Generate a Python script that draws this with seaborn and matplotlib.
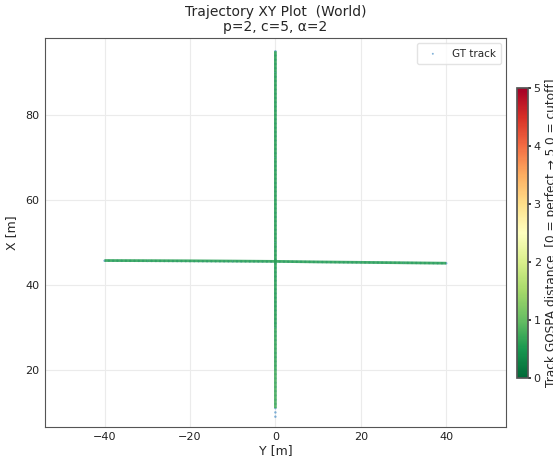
import numpy as np
import matplotlib
matplotlib.use("Agg")
import matplotlib.pyplot as plt
import seaborn as sns
from matplotlib.collections import LineCollection
from matplotlib.colors import Normalize

# Ground-truth positions (metres), object 1 drives along X, object 2 along Y
gt1_x = [9, 10, 11, 12, 13, 14, 15, 16, 17, 18, 19, 20, 21, 22, 23, 24, 25, 26,
         27, 28, 29, 30, 31, 32, 33, 34, 35, 36, 37, 38, 39, 40, 41, 42, 43, 44,
         45, 46, 47, 48, 49, 50, 51, 52, 53, 54, 55, 56, 57, 58, 59, 60, 61, 62,
         63, 64, 65, 66, 67, 68, 69, 70, 71, 72, 73, 74, 75, 76, 77, 78, 79, 80,
         81, 82, 83, 84, 85, 86, 87, 88, 89, 90, 91, 92, 93, 94, 95]
gt1_y = [0.0] * len(gt1_x)
gt2_y = [-40, -39, -38, -37, -36, -35, -34, -33, -32, -31, -30, -29, -28, -27,
         -26, -25, -24, -23, -22, -21, -20, -19, -18, -17, -16, -15, -14, -13,
         -12, -11, -10, -9, -8, -7, -6, -5, -4, -3, -2, -1, 0, 1, 2, 3, 4, 5, 6,
         7, 8, 9, 10, 11, 12, 13, 14, 15, 16, 17, 18, 19, 20, 21, 22, 23, 24, 25,
         26, 27, 28, 29, 30, 31, 32, 33, 34, 35, 36, 37, 38, 39, 40]
gt2_x = [45.70, 45.70, 45.69, 45.69, 45.68, 45.68, 45.67, 45.67, 45.66, 45.66,
         45.65, 45.65, 45.64, 45.64, 45.63, 45.63, 45.62, 45.62, 45.61, 45.61,
         45.60, 45.60, 45.59, 45.59, 45.58, 45.58, 45.57, 45.57, 45.56, 45.56,
         45.55, 45.55, 45.54, 45.54, 45.53, 45.53, 45.52, 45.52, 45.51, 45.51,
         45.50, 45.49, 45.48, 45.47, 45.46, 45.45, 45.44, 45.43, 45.42, 45.41,
         45.40, 45.39, 45.38, 45.37, 45.36, 45.35, 45.34, 45.33, 45.32, 45.31,
         45.30, 45.29, 45.28, 45.27, 45.26, 45.25, 45.24, 45.23, 45.22, 45.21,
         45.20, 45.19, 45.18, 45.17, 45.16, 45.15, 45.14, 45.13, 45.12, 45.11,
         45.10]

# Estimated tracks with per-point GOSPA distance
est1_y = [0.0, 0.0, 0.0, 0.0, 0.0, 0.0, 0.0, 0.0, 0.0, 0.0]
est1_x = [11.0, 20.0, 30.0, 40.0, 50.0, 60.0, 70.0, 80.0, 90.0, 95.0]
est1_gospa = [0.8, 0.7, 0.6, 0.6, 0.6, 0.6, 0.6, 0.6, 0.6, 0.6]
est2_y = [-40.0, -30.0, -20.0, -10.0, 0.0, 10.0, 20.0, 30.0, 40.0]
est2_x = [45.75, 45.72, 45.68, 45.62, 45.55, 45.42, 45.32, 45.22, 45.12]
est2_gospa = [0.6, 0.6, 0.6, 0.6, 0.6, 0.6, 0.6, 0.6, 0.6]

cutoff = 5.0
sns.set_theme(style="whitegrid")
plt.rcParams["font.family"] = ["DejaVu Sans"]

fig = plt.figure(figsize=(5.53, 4.59), dpi=100)
ax = fig.add_axes([0.081, 0.070, 0.834, 0.847])
cax = fig.add_axes([0.935, 0.176, 0.020, 0.632])

cmap = plt.get_cmap("RdYlGn_r")
norm = Normalize(0, cutoff)

sns.scatterplot(x=gt1_y + gt2_y, y=gt1_x + gt2_x, ax=ax, s=3, color="#4a90c8",
                edgecolor="none", alpha=0.7, label="GT track", zorder=2)

for ys, xs, g in [(est1_y, est1_x, est1_gospa), (est2_y, est2_x, est2_gospa)]:
    pts = np.column_stack([ys, xs]).reshape(-1, 1, 2)
    segs = np.concatenate([pts[:-1], pts[1:]], axis=1)
    lc = LineCollection(segs, cmap=cmap, norm=norm, linewidth=2.0, alpha=0.85,
                        zorder=3, snap=False)
    lc.set_array(np.array(g[:-1]))
    ax.add_collection(lc)

ax.set_xlim(-54, 54)
ax.set_ylim(6.6, 98.1)
ax.set_xticks([-40, -20, 0, 20, 40])
ax.set_yticks([20, 40, 60, 80])
ax.grid(True, color="#ebebeb", linewidth=0.8)
for s in ax.spines.values():
    s.set_color("#555555")
    s.set_linewidth(0.8)
ax.tick_params(labelsize=8, colors="#222222", length=0, pad=4)
ax.set_xlabel("Y [m]", fontsize=9, labelpad=1)
ax.set_ylabel("X [m]", fontsize=9, labelpad=5)
ax.set_title("Trajectory XY Plot  (World)\np=2, c=5, α=2", fontsize=10,
             linespacing=1.1, pad=5)
leg = ax.legend(loc="upper right", fontsize=7.5, frameon=True, markerscale=0.8,
                handletextpad=0.8, borderpad=0.5)
leg.get_frame().set_edgecolor("#dddddd")

sm = plt.cm.ScalarMappable(cmap=cmap, norm=norm)
cb = fig.colorbar(sm, cax=cax)
cb.set_ticks([0, 1, 2, 3, 4, 5])
cb.ax.tick_params(labelsize=8, length=2.5, pad=1.5)
cb.outline.set_edgecolor("#555555")
cb.set_label(f"Track GOSPA distance  [0 = perfect → {cutoff} = cutoff]",
             fontsize=8.7, labelpad=3)

fig.savefig("out.png", dpi=100)
